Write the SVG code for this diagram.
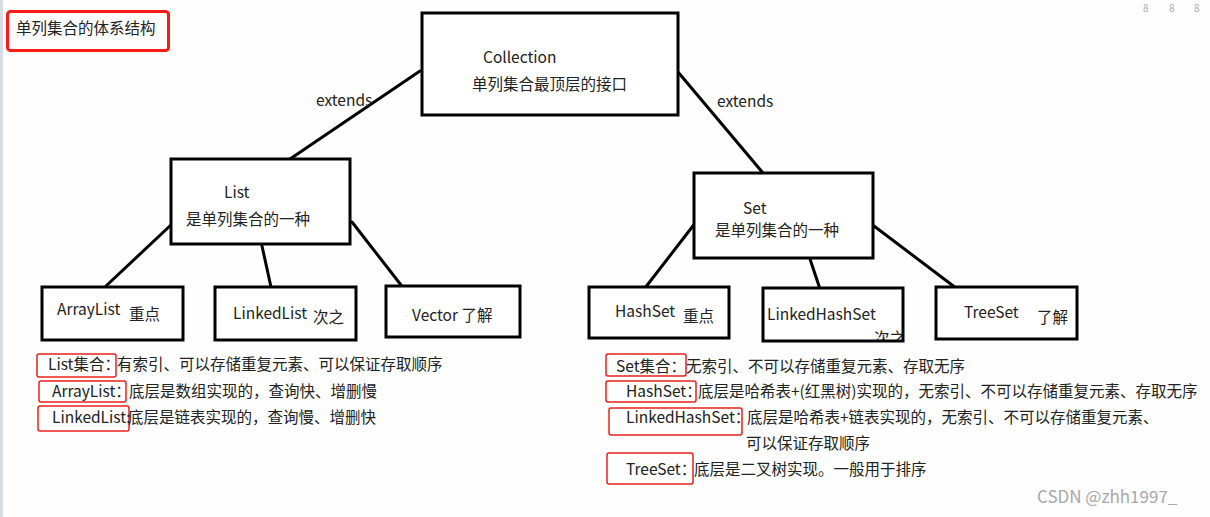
<svg xmlns="http://www.w3.org/2000/svg" width="1210" height="517" viewBox="0 0 1210 517">
<style>
text{font-family:"Noto Sans CJK SC","Noto Sans",sans-serif;font-size:15.5px;fill:#222}
.box{fill:#fff;stroke:#000;stroke-width:3}
.conn{stroke:#000;stroke-width:3;stroke-linecap:round;fill:none}
.tag{fill:none;stroke:#e8201c;stroke-width:1.5}
.wm{fill:#a8a8a8;font-size:17px}
.ui{fill:#b0b0b0;font-size:10px}
</style>
<defs>
<clipPath id="lhsClip"><rect x="763" y="288" width="140" height="52"/></clipPath>
</defs>
<rect x="0" y="0" width="1210" height="517" fill="#fdfefd"/>
<rect x="0" y="0" width="3" height="517" fill="#d6dbe6"/>
<text class="ui" x="1143" y="12">8</text>
<text class="ui" x="1169" y="12">8</text>
<text class="ui" x="1194" y="12">8</text>

<g id="title">
<rect x="7.5" y="11.5" width="161" height="39" rx="3" fill="none" stroke="#ff1a1a" stroke-width="3"/>
<text x="16" y="34">单列集合的体系结构</text>
</g>

<g id="connectors">
<line class="conn" x1="420" y1="71" x2="290" y2="159"/>
<line class="conn" x1="678" y1="72" x2="763" y2="173"/>
<line class="conn" x1="172" y1="224" x2="106" y2="286"/>
<line class="conn" x1="262" y1="246" x2="271" y2="287"/>
<line class="conn" x1="352" y1="222" x2="401" y2="285"/>
<line class="conn" x1="696" y1="222" x2="645" y2="288"/>
<line class="conn" x1="810" y1="259" x2="820" y2="289"/>
<line class="conn" x1="874" y1="226" x2="956" y2="288"/>
<text x="316" y="106">extends</text>
<text x="717" y="107">extends</text>
</g>

<g id="collection">
<rect class="box" x="422" y="13" width="256" height="102"/>
<text x="483" y="63">Collection</text>
<text x="472" y="90">单列集合最顶层的接口</text>
</g>

<g id="list">
<rect class="box" x="171" y="159" width="179" height="85"/>
<text x="224" y="198">List</text>
<text x="186" y="225">是单列集合的一种</text>
</g>

<g id="set">
<rect class="box" x="694" y="173" width="179" height="85"/>
<text x="743" y="214">Set</text>
<text x="715" y="236">是单列集合的一种</text>
</g>

<g id="arraylist">
<rect class="box" x="42" y="287" width="141" height="53"/>
<text x="57" y="315">ArrayList</text>
<text x="129" y="320">重点</text>
</g>

<g id="linkedlist">
<rect class="box" x="215" y="287" width="141" height="53"/>
<text x="233" y="319">LinkedList</text>
<text x="313" y="323">次之</text>
</g>

<g id="vector">
<rect class="box" x="386" y="286" width="134" height="51"/>
<text x="412" y="321">Vector 了解</text>
</g>

<g id="hashset">
<rect class="box" x="589" y="287" width="140" height="51"/>
<text x="615" y="317">HashSet</text>
<text x="683" y="322">重点</text>
</g>

<g id="linkedhashset">
<rect x="763" y="288" width="140" height="53" fill="#fff"/>
<text x="767" y="320">LinkedHashSet</text>
<text x="874" y="344" clip-path="url(#lhsClip)">次之</text>
<rect x="763" y="288" width="140" height="53" fill="none" stroke="#000" stroke-width="3"/>
</g>

<g id="treeset">
<rect class="box" x="936" y="287" width="141" height="52"/>
<text x="964" y="318">TreeSet</text>
<text x="1037" y="323">了解</text>
</g>

<g id="notes-list">
<rect class="tag" x="37" y="354" width="79" height="23" rx="2"/>
<text x="48" y="370">List集合：</text>
<text x="117" y="370">有索引、可以存储重复元素、可以保证存取顺序</text>
<rect class="tag" x="39" y="381" width="87" height="21" rx="2"/>
<text x="52" y="397">ArrayList：</text>
<text x="129" y="397">底层是数组实现的，查询快、增删慢</text>
<rect class="tag" x="38" y="406" width="91" height="25" rx="2"/>
<text x="52" y="423">LinkedList:</text>
<text x="128" y="423">底层是链表实现的，查询慢、增删快</text>
</g>

<g id="notes-set">
<rect class="tag" x="606" y="354" width="80" height="22" rx="2"/>
<text x="616" y="372">Set集合：</text>
<text x="686" y="372">无索引、不可以存储重复元素、存取无序</text>
<rect class="tag" x="606" y="381" width="90" height="21" rx="2"/>
<text x="626" y="397">HashSet：</text>
<text x="698" y="397">底层是哈希表+(红黑树)实现的，无索引、不可以存储重复元素、存取无序</text>
<rect class="tag" x="609" y="408" width="133" height="27" rx="2"/>
<text x="626" y="423">LinkedHashSet：</text>
<text x="747" y="423">底层是哈希表+链表实现的，无索引、不可以存储重复元素、</text>
<text x="746" y="449">可以保证存取顺序</text>
<rect class="tag" x="607" y="453" width="86" height="31" rx="2"/>
<text x="626" y="475">TreeSet：</text>
<text x="694" y="475">底层是二叉树实现。一般用于排序</text>
</g>

<text class="wm" x="1037" y="503">CSDN @zhh1997_</text>
</svg>
